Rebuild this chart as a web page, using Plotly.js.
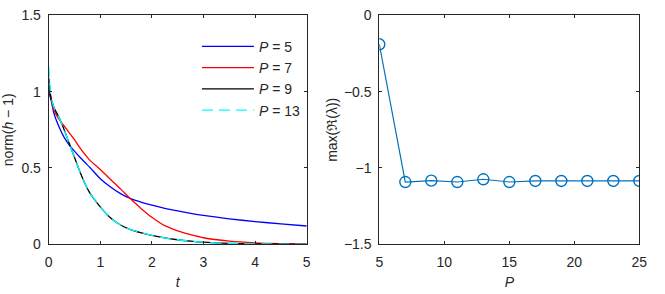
<!DOCTYPE html>
<html>
<head>
<meta charset="utf-8">
<script src="https://cdn.plot.ly/plotly-3.0.1.min.js"></script>
<style>html,body{margin:0;padding:0;background:#fff;}#chart{width:665px;height:294px;}</style>
</head>
<body>
<div id="chart"></div>
<script>
// Left panel: norm(h-1) versus t
const tValues = [0, 0.05, 0.1, 0.2, 0.3, 0.4, 0.5, 0.6, 0.7, 0.8, 1.0, 1.2, 1.4, 1.6, 1.8, 2.0, 2.25, 2.5, 2.75, 3.0, 3.5, 4.0, 4.5, 5.0];
const normP5  = [1.00, 0.94, 0.86, 0.77, 0.70, 0.65, 0.61, 0.572, 0.537, 0.503, 0.43, 0.375, 0.33, 0.297, 0.275, 0.256, 0.236, 0.219, 0.203, 0.189, 0.167, 0.149, 0.134, 0.120];
const normP7  = [1.02, 0.95, 0.88, 0.82, 0.775, 0.73, 0.685, 0.635, 0.59, 0.55, 0.49, 0.425, 0.36, 0.293, 0.232, 0.177, 0.122, 0.088, 0.063, 0.043, 0.021, 0.010, 0.005, 0.003];
const normP9  = [1.09, 0.95, 0.90, 0.83, 0.75, 0.66, 0.57, 0.48, 0.40, 0.335, 0.245, 0.172, 0.125, 0.095, 0.075, 0.058, 0.042, 0.030, 0.021, 0.014, 0.006, 0.003, 0.001, 0.0];
const normP13 = [1.17, 0.96, 0.90, 0.83, 0.75, 0.66, 0.57, 0.48, 0.40, 0.335, 0.245, 0.172, 0.125, 0.095, 0.075, 0.058, 0.042, 0.030, 0.021, 0.014, 0.006, 0.003, 0.001, 0.0];
const seriesNames = ["<i>P</i> = 5", "<i>P</i> = 7", "<i>P</i> = 9", "<i>P</i> = 13"];

// Right panel: max Re(lambda) versus P
const pValues = [5, 7, 9, 11, 13, 15, 17, 19, 21, 23, 25];
const maxReLambda = [-0.19, -1.092, -1.083, -1.092, -1.074, -1.092, -1.085, -1.085, -1.085, -1.085, -1.085];

const axisColor = '#262626';
const fontFam = '"Liberation Sans", Arial, Helvetica, sans-serif';
const FS = 14;

const traces = [
  {x: tValues, y: normP5,  name: seriesNames[0], mode: 'lines', line: {color: '#0000ff', width: 1.3, shape: 'spline', smoothing: 0.8}, xaxis: 'x', yaxis: 'y'},
  {x: tValues, y: normP7,  name: seriesNames[1], mode: 'lines', line: {color: '#ff0000', width: 1.3, shape: 'spline', smoothing: 0.8}, xaxis: 'x', yaxis: 'y'},
  {x: tValues, y: normP9,  name: seriesNames[2], mode: 'lines', line: {color: '#000000', width: 1.3, shape: 'spline', smoothing: 0.8}, xaxis: 'x', yaxis: 'y'},
  {x: tValues, y: normP13, name: seriesNames[3], mode: 'lines', line: {color: '#00ffff', width: 1.3, dash: '11px,6px', shape: 'spline', smoothing: 0.8}, xaxis: 'x', yaxis: 'y'},
  {x: pValues, y: maxReLambda, mode: 'lines+markers', showlegend: false,
   line: {color: '#0072bd', width: 1.2},
   marker: {symbol: 'circle-open', size: 11, color: '#0072bd', line: {width: 1.4, color: '#0072bd'}},
   xaxis: 'x2', yaxis: 'y2'}
];

function axisBase(extra) {
  return Object.assign({
    showgrid: false, zeroline: false, showline: true, linecolor: axisColor, linewidth: 1,
    mirror: 'allticks', ticks: 'inside', ticklen: 3, tickcolor: axisColor, tickwidth: 1,
    tickfont: {family: fontFam, size: FS, color: axisColor}, automargin: false
  }, extra);
}

const layout = {
  width: 665, height: 294,
  margin: {l: 0, r: 0, t: 0, b: 0},
  paper_bgcolor: '#ffffff', plot_bgcolor: '#ffffff',
  font: {family: fontFam, size: FS, color: axisColor},
  showlegend: true,
  legend: {x: 0.46, y: 0.895, xanchor: 'right', yanchor: 'top', bgcolor: 'rgba(0,0,0,0)',
           font: {family: fontFam, size: FS, color: axisColor}, itemwidth: 52, tracegroupgap: 0},
  xaxis: axisBase({domain: [0.0732, 0.4612], range: [0, 5], tickvals: [0, 1, 2, 3, 4, 5], ticklabelstandoff: 5,
                   title: {text: '<i>t</i>', standoff: 8, font: {family: fontFam, size: FS, color: axisColor}}, anchor: 'y'}),
  yaxis: axisBase({domain: [0.169, 0.948], range: [0, 1.5], tickvals: [0, 0.5, 1, 1.5], ticktext: ['0', '0.5', '1', '1.5'], ticklabelstandoff: 4,
                   title: {text: 'norm(<i>h</i> − 1)', standoff: 6, font: {family: fontFam, size: FS, color: axisColor}}, anchor: 'x'}),
  xaxis2: axisBase({domain: [0.5704, 0.9614], range: [5, 25], tickvals: [5, 10, 15, 20, 25], ticklabelstandoff: 5,
                    title: {text: '<i>P</i>', standoff: 8, font: {family: fontFam, size: FS, color: axisColor}}, anchor: 'y2'}),
  yaxis2: axisBase({domain: [0.169, 0.948], range: [-1.5, 0], tickvals: [-1.5, -1, -0.5, 0], ticktext: ['−1.5', '−1', '−0.5', '0'], ticklabelstandoff: 4,
                    title: {text: 'max(ℜ(λ))', standoff: 2, font: {family: fontFam, size: FS, color: axisColor}}, anchor: 'x2'})
};

Plotly.newPlot('chart', traces, layout, {displayModeBar: false, staticPlot: true});
</script>
</body>
</html>
